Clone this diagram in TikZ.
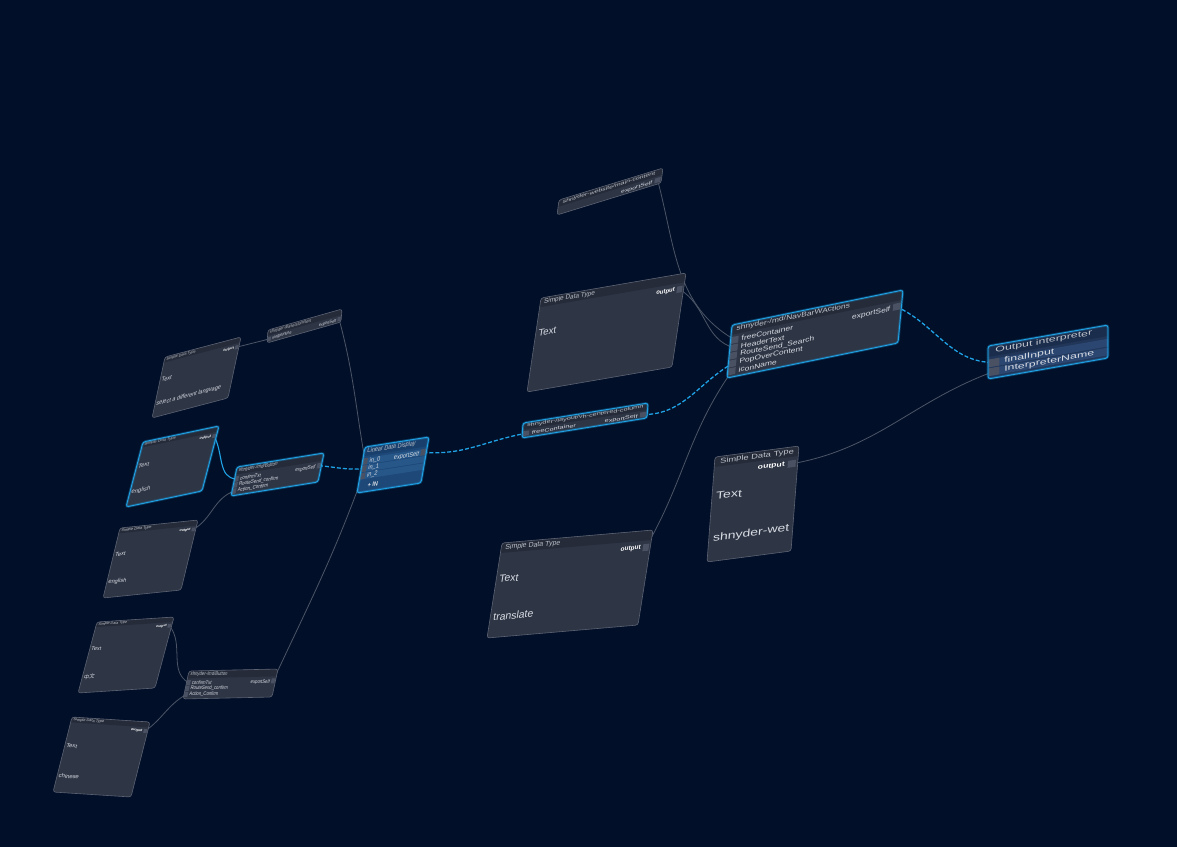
\documentclass[tikz,border=0pt]{standalone}
\usepackage{fontspec}
\setmainfont{Liberation Sans}
\newfontfamily\cjk{Noto Sans CJK SC}
\usepackage{tikz}

\definecolor{canvasbg}{HTML}{010F28}
\definecolor{panelfill}{HTML}{2E3545}
\definecolor{panelhead}{HTML}{252B39}
\definecolor{panelrim}{HTML}{5B6272}
\definecolor{portgray}{HTML}{4A5163}
\definecolor{labelgray}{HTML}{D8DCE3}
\definecolor{wiregray}{HTML}{4C5567}
\definecolor{liveblue}{HTML}{1FA2E6}
\definecolor{livefill}{HTML}{1D4878}
\definecolor{livehead}{HTML}{19406C}
\definecolor{liverow}{HTML}{275789}
\definecolor{outfill}{HTML}{213659}
\definecolor{outhead}{HTML}{1B2D4C}
\definecolor{outrow}{HTML}{2B4670}

\pgfdeclarelayer{bg}
\pgfdeclarelayer{wires}
\pgfsetlayers{bg,wires,main}

\tikzset{
  frame/.style={draw=panelrim,line width=0.6,rounded corners=2.5,
    inner sep=0,outer sep=0,anchor=north west},
  liveframe/.style={draw=liveblue,line width=0.9,
    preaction={draw=liveblue,line width=2.6,opacity=0.3}},
  ttl/.style={anchor=west,inner sep=0,text=labelgray!85!panelfill,
    font=\fontsize{7}{8}\selectfont},
  outlbl/.style={anchor=east,inner sep=0,text=white,
    font=\bfseries\fontsize{6.5}{7}\selectfont},
  bigtxt/.style={anchor=west,inner sep=0,text=labelgray,
    font=\fontsize{10.5}{12}\selectfont},
  rowtxt/.style={anchor=west,inner sep=0,text=labelgray,
    font=\fontsize{7}{8}\selectfont},
  port/.style={fill=portgray,inner sep=0,outer sep=0,
    minimum width=6,minimum height=7},
  wire/.style={draw=wiregray,line width=0.8},
  live/.style={draw=liveblue,line width=1.3,dash pattern=on 4pt off 2pt},
  livesolid/.style={draw=liveblue,line width=1.1},
}

% skewed panel: top left, top right, bottom left corner (pixels), own width and height
\newcommand\panelat[8]{%
  \pgfmathsetmacro\tfa{(#3-#1)/#7}%
  \pgfmathsetmacro\tfb{-(#4-#2)/#7}%
  \pgfmathsetmacro\tfc{-(#5-#1)/#8}%
  \pgfmathsetmacro\tfd{(#6-#2)/#8}%
  \def\tfw{#7}\def\tfh{#8}\def\tfx{#1}\def\tfy{#2}}
\newcommand\panelframe[2]{%
  \node[frame,#2,minimum width=\tfw pt,minimum height=\tfh pt] (#1) at (0,0) {};}
% simple data type panel
\newcommand\sdtpanel[3]{%
  \fill[panelfill,rounded corners=2.5] (0,0) rectangle (\tfw,\tfh);
  \begin{scope}
    \clip[rounded corners=2.5] (0,0) rectangle (\tfw,\tfh);
    \fill[panelhead] (0,0) rectangle (\tfw,10);
  \end{scope}
  \node[ttl] (#1-title) at (4,5) {Simple Data Type};
  \node[outlbl] (#1-lbl) at (\tfw-9.5,17) {output};
  \node[port] (#1-out) at (\tfw-4.5,17) {};
  \node[bigtxt] (#1-key) at (3,0.38*\tfh) {Text};
  \node[bigtxt] (#1-val) at (3,0.78*\tfh) {#2};
  \panelframe{#1}{#3}}
% component panel
\newcommand\comppanel[4]{%
  \fill[#3,rounded corners=2.5] (0,0) rectangle (\tfw,\tfh);
  \begin{scope}
    \clip[rounded corners=2.5] (0,0) rectangle (\tfw,\tfh);
    \fill[#4] (0,0) rectangle (\tfw,10);
  \end{scope}
  \node[ttl] (#1-title) at (4,5) {#2};}
\newcommand\inrow[3]{%
  \node[port] (#1-in#2) at (3.5,{16+8*(#2-1)}) {};
  \node[rowtxt] (#1-in#2-lbl) at (9,{16+8*(#2-1)}) {#3};}
\newcommand\outrow[1]{%
  \node[rowtxt,anchor=east] (#1-outlbl) at (\tfw-9,17.5) {exportSelf};
  \node[port] (#1-out) at (\tfw-4,16) {};}

\begin{document}
\begin{tikzpicture}[x=1pt,y=-1pt]
\useasboundingbox (0,0) rectangle (1177,847);
\begin{pgfonlayer}{bg}
  \fill[canvasbg] (0,0) rectangle (1177,847);
\end{pgfonlayer}

% left column
\panelat{165}{357}{241}{337}{152}{418}{145}{108}
\begin{scope}[cm={\tfa,\tfb,\tfc,\tfd,(\tfx,\tfy)},transform shape]
  \sdtpanel{sdtLang}{select a different language}{}
\end{scope}

\panelat{268}{330}{342}{309}{267}{343}{135}{22}
\begin{scope}[cm={\tfa,\tfb,\tfc,\tfd,(\tfx,\tfy)},transform shape]
  \comppanel{txtAtom}{shnyder-/base/atom/text}{panelfill}{panelhead}
  \inrow{txtAtom}{1}{singleInline}
  \outrow{txtAtom}
  \panelframe{txtAtom}{}
\end{scope}

\panelat{143}{442}{219}{426}{126}{507}{135}{117}
\begin{scope}[cm={\tfa,\tfb,\tfc,\tfd,(\tfx,\tfy)},transform shape]
  \sdtpanel{sdtEn}{english}{liveframe}
\end{scope}

\panelat{237}{467}{324}{453}{231}{496}{137}{38}
\begin{scope}[cm={\tfa,\tfb,\tfc,\tfd,(\tfx,\tfy)},transform shape]
  \comppanel{btnTop}{shnyder-/md/Button}{panelfill}{panelhead}
  \inrow{btnTop}{1}{confirmTxt}
  \inrow{btnTop}{2}{RouteSend\_confirm}
  \inrow{btnTop}{3}{Action\_Confirm}
  \outrow{btnTop}
  \panelframe{btnTop}{liveframe}
\end{scope}

\panelat{120}{528}{198}{520}{103}{598}{144}{130}
\begin{scope}[cm={\tfa,\tfb,\tfc,\tfd,(\tfx,\tfy)},transform shape]
  \sdtpanel{sdtEnB}{english}{}
\end{scope}

\panelat{97}{622}{174}{617}{78}{693}{148}{140}
\begin{scope}[cm={\tfa,\tfb,\tfc,\tfd,(\tfx,\tfy)},transform shape]
  \sdtpanel{sdtZh}{{\cjk 中文}}{}
\end{scope}

\panelat{189}{671}{278}{669}{183}{699}{148}{38}
\begin{scope}[cm={\tfa,\tfb,\tfc,\tfd,(\tfx,\tfy)},transform shape]
  \comppanel{btnLow}{shnyder-/md/Button}{panelfill}{panelhead}
  \inrow{btnLow}{1}{confirmTxt}
  \inrow{btnLow}{2}{RouteSend\_confirm}
  \inrow{btnLow}{3}{Action\_Confirm}
  \outrow{btnLow}
  \panelframe{btnLow}{}
\end{scope}

\panelat{72}{717}{150}{722}{53}{792}{141}{140}
\begin{scope}[cm={\tfa,\tfb,\tfc,\tfd,(\tfx,\tfy)},transform shape]
  \sdtpanel{sdtCn}{chinese}{}
\end{scope}

% linear data display
\panelat{365}{447}{429}{437}{357}{493}{81}{50}
\begin{scope}[cm={\tfa,\tfb,\tfc,\tfd,(\tfx,\tfy)},transform shape]
  \comppanel{linDisplay}{Linear Data Display}{livefill}{livehead}
  \foreach \r in {1,2,3}
    \fill[liverow] (0,{16+8*(\r-1)-3.5}) rectangle (\tfw,{16+8*(\r-1)+3.5});
  \inrow{linDisplay}{1}{in\_0}
  \inrow{linDisplay}{2}{in\_1}
  \inrow{linDisplay}{3}{in\_2}
  \outrow{linDisplay}
  \node[rowtxt,font=\bfseries\fontsize{7}{8}\selectfont] (linDisplay-add) at (12,43) {+ IN};
  \panelframe{linDisplay}{liveframe}
\end{scope}

% middle column
\panelat{559}{200}{663}{168}{557}{215}{105}{22}
\begin{scope}[cm={\tfa,\tfb,\tfc,\tfd,(\tfx,\tfy)},transform shape]
  \comppanel{mainContent}{shnyder-website/main-content}{panelfill}{panelhead}
  \outrow{mainContent}
  \panelframe{mainContent}{}
\end{scope}

\panelat{541}{298}{686}{273}{527}{392}{158}{102}
\begin{scope}[cm={\tfa,\tfb,\tfc,\tfd,(\tfx,\tfy)},transform shape]
  \sdtpanel{sdtBig}{}{}
\end{scope}

\panelat{523}{423}{648}{403}{522}{438}{120}{22}
\begin{scope}[cm={\tfa,\tfb,\tfc,\tfd,(\tfx,\tfy)},transform shape]
  \comppanel{vhColumn}{shnyder-/layout/vh-centered-column}{panelfill}{panelhead}
  \inrow{vhColumn}{1}{freeContainer}
  \outrow{vhColumn}
  \panelframe{vhColumn}{liveframe}
\end{scope}

\panelat{502}{543}{653}{530}{487}{638}{152}{95}
\begin{scope}[cm={\tfa,\tfb,\tfc,\tfd,(\tfx,\tfy)},transform shape]
  \sdtpanel{sdtTr}{translate}{}
\end{scope}

% right column
\panelat{732}{325}{903}{290}{727}{378}{141}{54}
\begin{scope}[cm={\tfa,\tfb,\tfc,\tfd,(\tfx,\tfy)},transform shape]
  \comppanel{navBar}{shnyder-/md/NavBarWActions}{panelfill}{panelhead}
  \inrow{navBar}{1}{freeContainer}
  \inrow{navBar}{2}{HeaderText}
  \inrow{navBar}{3}{RouteSend\_Search}
  \inrow{navBar}{4}{PopOverContent}
  \inrow{navBar}{5}{iconName}
  \outrow{navBar}
  \panelframe{navBar}{liveframe}
\end{scope}

\panelat{715}{457}{799}{446}{707}{562}{63}{105}
\begin{scope}[cm={\tfa,\tfb,\tfc,\tfd,(\tfx,\tfy)},transform shape]
  \sdtpanel{sdtWet}{shnyder-wet}{}
\end{scope}

\panelat{988}{346}{1108}{325}{988}{379}{68}{30}
\begin{scope}[cm={\tfa,\tfb,\tfc,\tfd,(\tfx,\tfy)},transform shape]
  \comppanel{outInterp}{Output interpreter}{outfill}{outhead}
  \foreach \r in {1,2}
    \fill[outrow] (0,{16+8*(\r-1)-3.5}) rectangle (\tfw,{16+8*(\r-1)+3.5});
  \inrow{outInterp}{1}{finalInput}
  \inrow{outInterp}{2}{InterpreterName}
  \panelframe{outInterp}{liveframe}
\end{scope}

% the wires
\begin{pgfonlayer}{wires}
  \draw[wire] (sdtLang-out.center) to[out=15,in=195] (txtAtom-in1.center);
  \draw[wire] (txtAtom-out.center) to[out=-75,in=100] (linDisplay-in1.center);
  \draw[livesolid] (sdtEn-out.center) to[out=-60,in=180] (btnTop-in1.center);
  \draw[wire] (sdtEnB-out.center) to[out=30,in=200] (btnTop-in3.center);
  \draw[live] (btnTop-out.center) to[out=-5,in=185] (linDisplay-in2.center);
  \draw[wire] (sdtZh-out.center) to[out=-50,in=150] (btnLow-in1.center);
  \draw[wire] (sdtCn-out.center) to[out=35,in=210] (btnLow-in3.center);
  \draw[wire] (btnLow-out.center) to[out=65,in=250] (linDisplay-in3.center);
  \draw[live] (linDisplay-out.center) to[out=-5,in=190] (vhColumn-in1.center);
  \draw[live] (vhColumn-out.center) to[out=0,in=210] (navBar-in4.center);
  \draw[live] (navBar-out.center) to[out=-25,in=180] (outInterp-in1.center);
  \draw[wire] (mainContent-out.center) to[out=-75,in=150] (navBar-in1.center);
  \draw[wire] (sdtBig-out.center) to[out=-30,in=165] (navBar-in2.center);
  \draw[wire] (sdtTr-out.center) to[out=60,in=235] (navBar-in5.center);
  \draw[wire] (sdtWet-out.center) to[out=10,in=200] (outInterp-in2.center);
\end{pgfonlayer}
\end{tikzpicture}
\end{document}
